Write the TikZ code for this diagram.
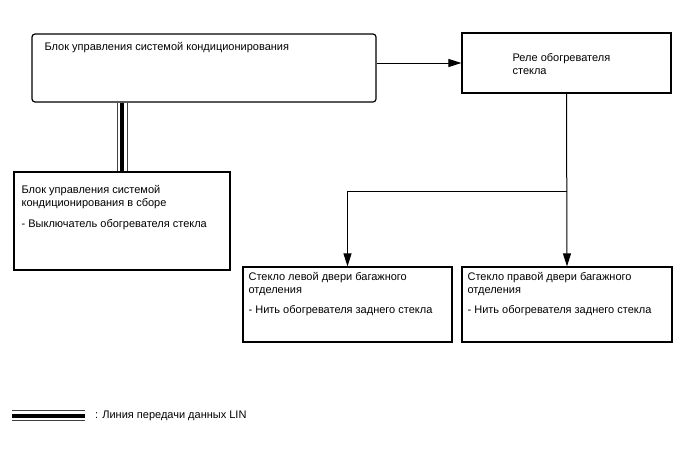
\documentclass[tikz,border=0pt]{standalone}
\usepackage{fontspec}
\setmainfont{Liberation Sans}
\usetikzlibrary{arrows.meta,positioning}

\begin{document}
\begin{tikzpicture}[
  x=1pt,
  y=-1pt,
  every node/.style={font=\fontsize{11}{13}\selectfont},
  unit/.style={
    draw,
    line width=1.2pt,
    inner sep=0pt,
    fill=white
  },
  caption/.style={
    anchor=north west,
    align=left,
    inner sep=0pt
  },
  arrow/.style={-{Triangle[length=13pt,width=8pt]}, line width=1pt},
  lin/.style={
    line width=11pt,
    draw=black!75,
    postaction={draw=white, line width=9pt},
    postaction={draw=black, line width=4pt}
  }
]
\useasboundingbox (0,0) rectangle (688,463);

\node[unit, rounded corners=3pt, minimum width=344pt, minimum height=68pt] (acu) at (204,68) {};
\node[unit, minimum width=209pt, minimum height=60pt] (relay) at (566.5,63) {};
\node[unit, minimum width=216pt, minimum height=98pt] (hvac) at (122,221) {};
\node[unit, minimum width=209pt, minimum height=75pt] (leftglass) at (347.5,304.5) {};
\node[unit, minimum width=210pt, minimum height=75pt] (rightglass) at (567,304.5) {};

\node[caption, below right=9pt and 13pt of acu.north west] (acutext)
  {Блок управления системой кондиционирования};
\node[caption, below right=21pt and 51pt of relay.north west] (relaytext)
  {Реле обогревателя\\стекла};
\node[caption, below right=14pt and 8pt of hvac.north west] (hvactext)
  {Блок управления системой\\кондиционирования в сборе\\[8pt]- Выключатель обогревателя стекла};
\node[caption, below right=6pt and 6pt of leftglass.north west] (lefttext)
  {Стекло левой двери багажного\\отделения\\[7pt]- Нить обогревателя заднего стекла};
\node[caption, below right=6pt and 6pt of rightglass.north west] (righttext)
  {Стекло правой двери багажного\\отделения\\[7pt]- Нить обогревателя заднего стекла};

\coordinate (split) at (567,191);
\draw[arrow] (relay.west -| acu.east) -- (relay.west);
\draw[arrow] (relay.south) -- (rightglass.north);
\draw[arrow] (split) -| (leftglass.north);
\draw[lin] (hvac.north |- acu.south) -- (hvac.north);

% legend
\coordinate (legstart) at (12,415.5);
\coordinate (legend) at (85,415.5);
\draw[lin] (legstart) -- (legend);
\node[anchor=west, inner sep=0pt] (legtext) at (95,416) {: Линия передачи данных LIN};
\end{tikzpicture}
\end{document}
